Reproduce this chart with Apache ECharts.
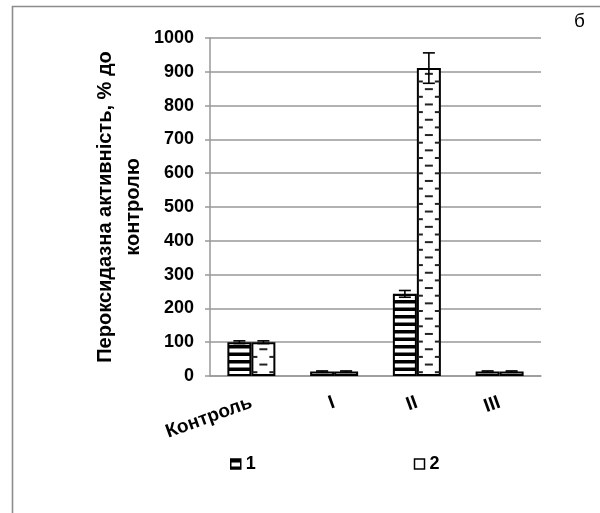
<!DOCTYPE html>
<html>
<head>
<meta charset="utf-8">
<script src="https://cdn.jsdelivr.net/npm/echarts@6/dist/echarts.min.js"></script>
<style>
html,body{margin:0;padding:0;background:#fff;}
#main{width:600px;height:513px;}
</style>
</head>
<body>
<div id="main"></div>
<script>
// ---- data ----
const categories = ['Контроль', 'I', 'II', 'III'];
const values1 = [100, 13, 243, 13];
const values2 = [100, 13, 911, 13];
const errors1 = [4, 2, 10, 2];
const errors2 = [4, 2, 45, 2];
const seriesNames = ['1', '2'];
const yMin = 0, yMax = 1000, yStep = 100;
const yAxisTitle = 'Пероксидазна активність, % до\nконтролю';
const panelLetter = 'б';

// ---- styles ----
const BAR_FRAC = 0.29;
const FONT = '"Liberation Sans", Arial, sans-serif';

function stripePattern() {
  const c = document.createElement('canvas');
  c.width = 4; c.height = 15;
  const ctx = c.getContext('2d');
  ctx.fillStyle = '#fff';
  ctx.fillRect(0, 0, 4, 15);
  ctx.fillStyle = '#000';
  ctx.fillRect(0, 0, 4, 3.5);
  ctx.fillRect(0, 7.5, 4, 3.5);
  return c;
}

const chart = echarts.init(document.getElementById('main'));

function dashRender(params, api) {
  const idx = api.value(0), v = api.value(1);
  const base = api.coord([idx, 0]);
  const top = api.coord([idx, v]);
  const band = api.size([1, 0])[0];
  const w = band * BAR_FRAC;
  const x0 = base[0], x1 = base[0] + w, xm = base[0] + w / 2;
  const children = [];
  let k = 0;
  for (let y = base[1] - 3.8; y > top[1] + 2.5; y -= 7.65, k++) {
    if (k % 2 === 0) {
      children.push({type: 'rect', shape: {x: x0 + 1, y: y - 1, width: 5, height: 2}, style: {fill: '#222'}});
      children.push({type: 'rect', shape: {x: x1 - 6, y: y - 1, width: 5, height: 2}, style: {fill: '#222'}});
    } else {
      children.push({type: 'rect', shape: {x: xm - 4, y: y - 1, width: 8, height: 2}, style: {fill: '#222'}});
    }
  }
  return {type: 'group', children};
}

function errRender(params, api) {
  const idx = api.value(0), v = api.value(1), e = api.value(2), side = api.value(3);
  const band = api.size([1, 0])[0];
  const w = band * BAR_FRAC;
  const c = api.coord([idx, v]);
  const x = c[0] + side * w / 2;
  const yHi = api.coord([idx, v + e])[1];
  const yLo = api.coord([idx, v - e])[1];
  const st = {stroke: '#000', lineWidth: 1.6};
  return {type: 'group', children: [
    {type: 'line', shape: {x1: x, y1: yHi, x2: x, y2: yLo}, style: st},
    {type: 'line', shape: {x1: x - 6, y1: yHi, x2: x + 6, y2: yHi}, style: st},
    {type: 'line', shape: {x1: x - 6, y1: yLo, x2: x + 6, y2: yLo}, style: st}
  ]};
}

const errData = [];
values1.forEach((v, i) => errData.push([i, v, errors1[i], -1]));
values2.forEach((v, i) => errData.push([i, v, errors2[i], 1]));

const stripes = stripePattern();

const option = {
  animation: false,
  backgroundColor: '#fff',
  textStyle: {fontFamily: FONT},
  grid: {left: 210, right: 59, top: 38, bottom: 137},
  legend: {
    data: [
      {name: seriesNames[0], itemStyle: {color: {image: stripes, repeat: 'repeat'}, borderColor: '#000', borderWidth: 1.5}},
      {name: seriesNames[1], itemStyle: {color: '#fff', borderColor: '#000', borderWidth: 1.5}}
    ],
    left: 225, top: 450,
    icon: 'rect',
    itemWidth: 10, itemHeight: 10, itemGap: 158,
    textStyle: {fontFamily: FONT, fontWeight: 'bold', fontSize: 18, color: '#000'}
  },
  xAxis: {
    type: 'category',
    data: categories,
    axisLine: {lineStyle: {color: '#999', width: 1.5}},
    axisTick: {length: 5, lineStyle: {color: '#999', width: 1.5}},
    axisLabel: {rotate: 20, margin: 26, interval: 0, fontFamily: FONT, fontWeight: 'bold', fontSize: 19, color: '#000'}
  },
  yAxis: {
    type: 'value',
    min: yMin, max: yMax, interval: yStep,
    name: yAxisTitle,
    nameLocation: 'middle',
    nameGap: 63,
    nameMoveOverlap: false,
    nameTextStyle: {fontFamily: FONT, fontWeight: 'bold', fontSize: 20, color: '#000', lineHeight: 28},
    axisLine: {show: true, lineStyle: {color: '#999', width: 1.5}},
    axisTick: {show: true, length: 5, lineStyle: {color: '#999', width: 1.5}},
    splitLine: {lineStyle: {color: '#999', width: 1.5}},
    axisLabel: {margin: 16, formatter: (v) => String(v), fontFamily: FONT, fontWeight: 'bold', fontSize: 18, color: '#000'}
  },
  series: [
    {
      name: seriesNames[0], type: 'bar', data: values1,
      barWidth: (BAR_FRAC * 100) + '%', barGap: '0%',
      itemStyle: {color: {image: stripes, repeat: 'repeat'}, borderColor: '#000', borderWidth: 2}
    },
    {
      name: seriesNames[1], type: 'bar', data: values2,
      barWidth: (BAR_FRAC * 100) + '%', barGap: '0%',
      itemStyle: {color: '#fff', borderColor: '#000', borderWidth: 2}
    },
    {
      type: 'custom', renderItem: dashRender, z: 3,
      data: values2.map((v, i) => [i, v]),
      encode: {x: 0, y: 1}, silent: true
    },
    {
      type: 'custom', renderItem: errRender, z: 4,
      data: errData,
      encode: {x: 0, y: 1}, silent: true
    }
  ],
  graphic: [
    {type: 'rect', shape: {x: 12.5, y: 6.5, width: 700, height: 700}, style: {fill: 'none', stroke: '#8c8c8c', lineWidth: 1.6}, silent: true},
    {type: 'text', left: 574, top: 12, style: {text: panelLetter, fontFamily: FONT, fontSize: 19, fill: '#000'}}
  ]
};
chart.setOption(option);
</script>
</body>
</html>
